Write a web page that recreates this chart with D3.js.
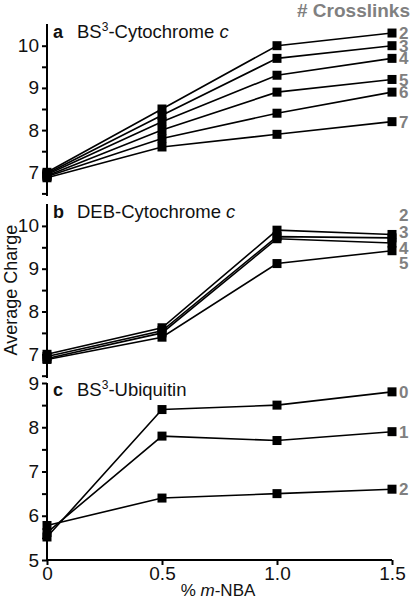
<!DOCTYPE html>
<html><head><meta charset="utf-8">
<script src="https://cdn.jsdelivr.net/npm/d3@7"></script>
<style>body{margin:0;background:#fff}svg{display:block;font-family:"Liberation Sans",Arial,sans-serif}</style>
</head><body><svg id="c" width="412" height="601"></svg>
<script>
const xValues = [0, 0.5, 1.0, 1.5];
const xTickLabels = ["0", "0.5", "1.0", "1.5"];

// Panel a: BS3-Cytochrome c
const aNames = ["2", "3", "4", "5", "6", "7"];
const aValues = [
  [7.0, 8.5, 10.0, 10.3],
  [6.97, 8.35, 9.7, 10.0],
  [6.95, 8.2, 9.3, 9.7],
  [6.92, 8.0, 8.9, 9.2],
  [6.9, 7.8, 8.4, 8.9],
  [6.87, 7.6, 7.9, 8.2]
];
// Panel b: DEB-Cytochrome c
const bNames = ["2", "3", "4", "5"];
const bValues = [
  [7.0, 7.62, 9.9, 9.8],
  [6.95, 7.55, 9.75, 9.72],
  [6.9, 7.5, 9.7, 9.6],
  [6.88, 7.4, 9.12, 9.42]
];
const bLabelAt = [10.25, 9.86, 9.48, 9.14];
// Panel c: BS3-Ubiquitin
const cNames = ["0", "1", "2"];
const cValues = [
  [5.52, 8.4, 8.5, 8.8],
  [5.62, 7.8, 7.7, 7.9],
  [5.78, 6.4, 6.5, 6.6]
];

const svg = d3.select("#c");
const x = d3.scaleLinear().domain([0, 1.5]).range([47, 392]);

const panels = [
  {letter:"a", title:["BS","3","-Cytochrome ","c"], names:aNames, values:aValues, labelAt:null,
   domain:[6.5,10.5], range:[193.4,24.6], ticks:[7,8,9,10], minor:[6.5,7.5,8.5,9.5], top:24, bottom:196},
  {letter:"b", title:["DEB-Cytochrome ","","","c"], names:bNames, values:bValues, labelAt:bLabelAt,
   domain:[6.5,10.5], range:[375.7,204.5], ticks:[7,8,9,10], minor:[6.5,7.5,8.5,9.5], top:204, bottom:378},
  {letter:"c", title:["BS","3","-Ubiquitin",""], names:cNames, values:cValues, labelAt:null,
   domain:[5,9], range:[560,383], ticks:[5,6,7,8,9], minor:[5.5,6.5,7.5,8.5], top:383, bottom:560}
];

const line = d3.line();
panels.forEach(p => {
  const y = d3.scaleLinear().domain(p.domain).range(p.range);
  const g = svg.append("g");
  g.append("line").attr("x1", x(0)).attr("x2", x(0)).attr("y1", p.top).attr("y2", p.bottom)
    .attr("stroke", "#000").attr("stroke-width", 2);
  const ax = d3.axisLeft(y).tickValues(p.ticks).tickSize(5).tickPadding(3).tickFormat(d3.format("d"));
  const axG = g.append("g").attr("transform", `translate(${x(0)},0)`).call(ax);
  axG.select(".domain").remove();
  axG.selectAll(".tick line").attr("stroke", "#000").attr("stroke-width", 2);
  axG.selectAll(".tick text").attr("font-size", 19).attr("fill", "#111")
    .attr("font-family", '"Liberation Sans",Arial,sans-serif');
  const mi = d3.axisLeft(y).tickValues(p.minor).tickSize(5).tickFormat("");
  const miG = g.append("g").attr("transform", `translate(${x(0)},0)`).call(mi);
  miG.select(".domain").remove();
  miG.selectAll(".tick line").attr("stroke", "#000").attr("stroke-width", 2);

  const ty = y(p.domain[1]) + 13;
  g.append("text").attr("x", 53).attr("y", ty).attr("font-size", 18).attr("font-weight", "bold")
    .attr("fill", "#111").text(p.letter);
  const t = g.append("text").attr("x", 77).attr("y", ty).attr("font-size", 18.5).attr("fill", "#111");
  t.append("tspan").text(p.title[0]);
  if (p.title[1]) {
    t.append("tspan").attr("font-size", 12).attr("dy", -7).text(p.title[1]);
    t.append("tspan").attr("dy", 7).text(p.title[2]);
  }
  if (p.title[3]) t.append("tspan").attr("font-style", "italic").text(p.title[3]);

  p.values.forEach(vals => {
    g.append("path").attr("d", line(vals.map((v, i) => [x(xValues[i]), y(v)])))
      .attr("fill", "none").attr("stroke", "#000").attr("stroke-width", 1.6);
  });
  p.values.forEach(vals => {
    g.selectAll(null).data(vals).enter().append("rect")
      .attr("x", (v, i) => x(xValues[i]) - 4.5).attr("y", v => y(v) - 4.5)
      .attr("width", 9).attr("height", 9).attr("fill", "#000");
  });
  p.names.forEach((n, i) => {
    const lv = p.labelAt ? p.labelAt[i] : p.values[i][3];
    g.append("text").attr("x", 399).attr("y", y(lv)).attr("dy", "0.36em")
      .attr("font-size", 17).attr("font-weight", "bold").attr("fill", "#808080").text(n);
  });
});

const yBase = 560;
svg.append("line").attr("x1", x(0)).attr("x2", x(1.5)).attr("y1", yBase).attr("y2", yBase)
  .attr("stroke", "#000").attr("stroke-width", 2);
const xa = d3.axisBottom(x).tickValues(xValues).tickSize(5).tickPadding(2)
  .tickFormat((d, i) => xTickLabels[i]);
const xg = svg.append("g").attr("transform", `translate(0,${yBase})`).call(xa);
xg.select(".domain").remove();
xg.selectAll(".tick line").attr("stroke", "#000").attr("stroke-width", 2);
xg.selectAll(".tick text").attr("font-size", 19).attr("fill", "#111")
  .attr("font-family", '"Liberation Sans",Arial,sans-serif');

const xt = svg.append("text").attr("x", 218).attr("y", 596).attr("text-anchor", "middle")
  .attr("font-size", 17).attr("fill", "#111");
xt.append("tspan").text("% ");
xt.append("tspan").attr("font-style", "italic").text("m");
xt.append("tspan").text("-NBA");

svg.append("text").attr("transform", "translate(17,290) rotate(-90)").attr("text-anchor", "middle")
  .attr("font-size", 18).attr("fill", "#111").text("Average Charge");

svg.append("text").attr("x", 410).attr("y", 17).attr("text-anchor", "end")
  .attr("font-size", 19).attr("font-weight", "bold").attr("fill", "#808080").text("# Crosslinks");
</script></body></html>
